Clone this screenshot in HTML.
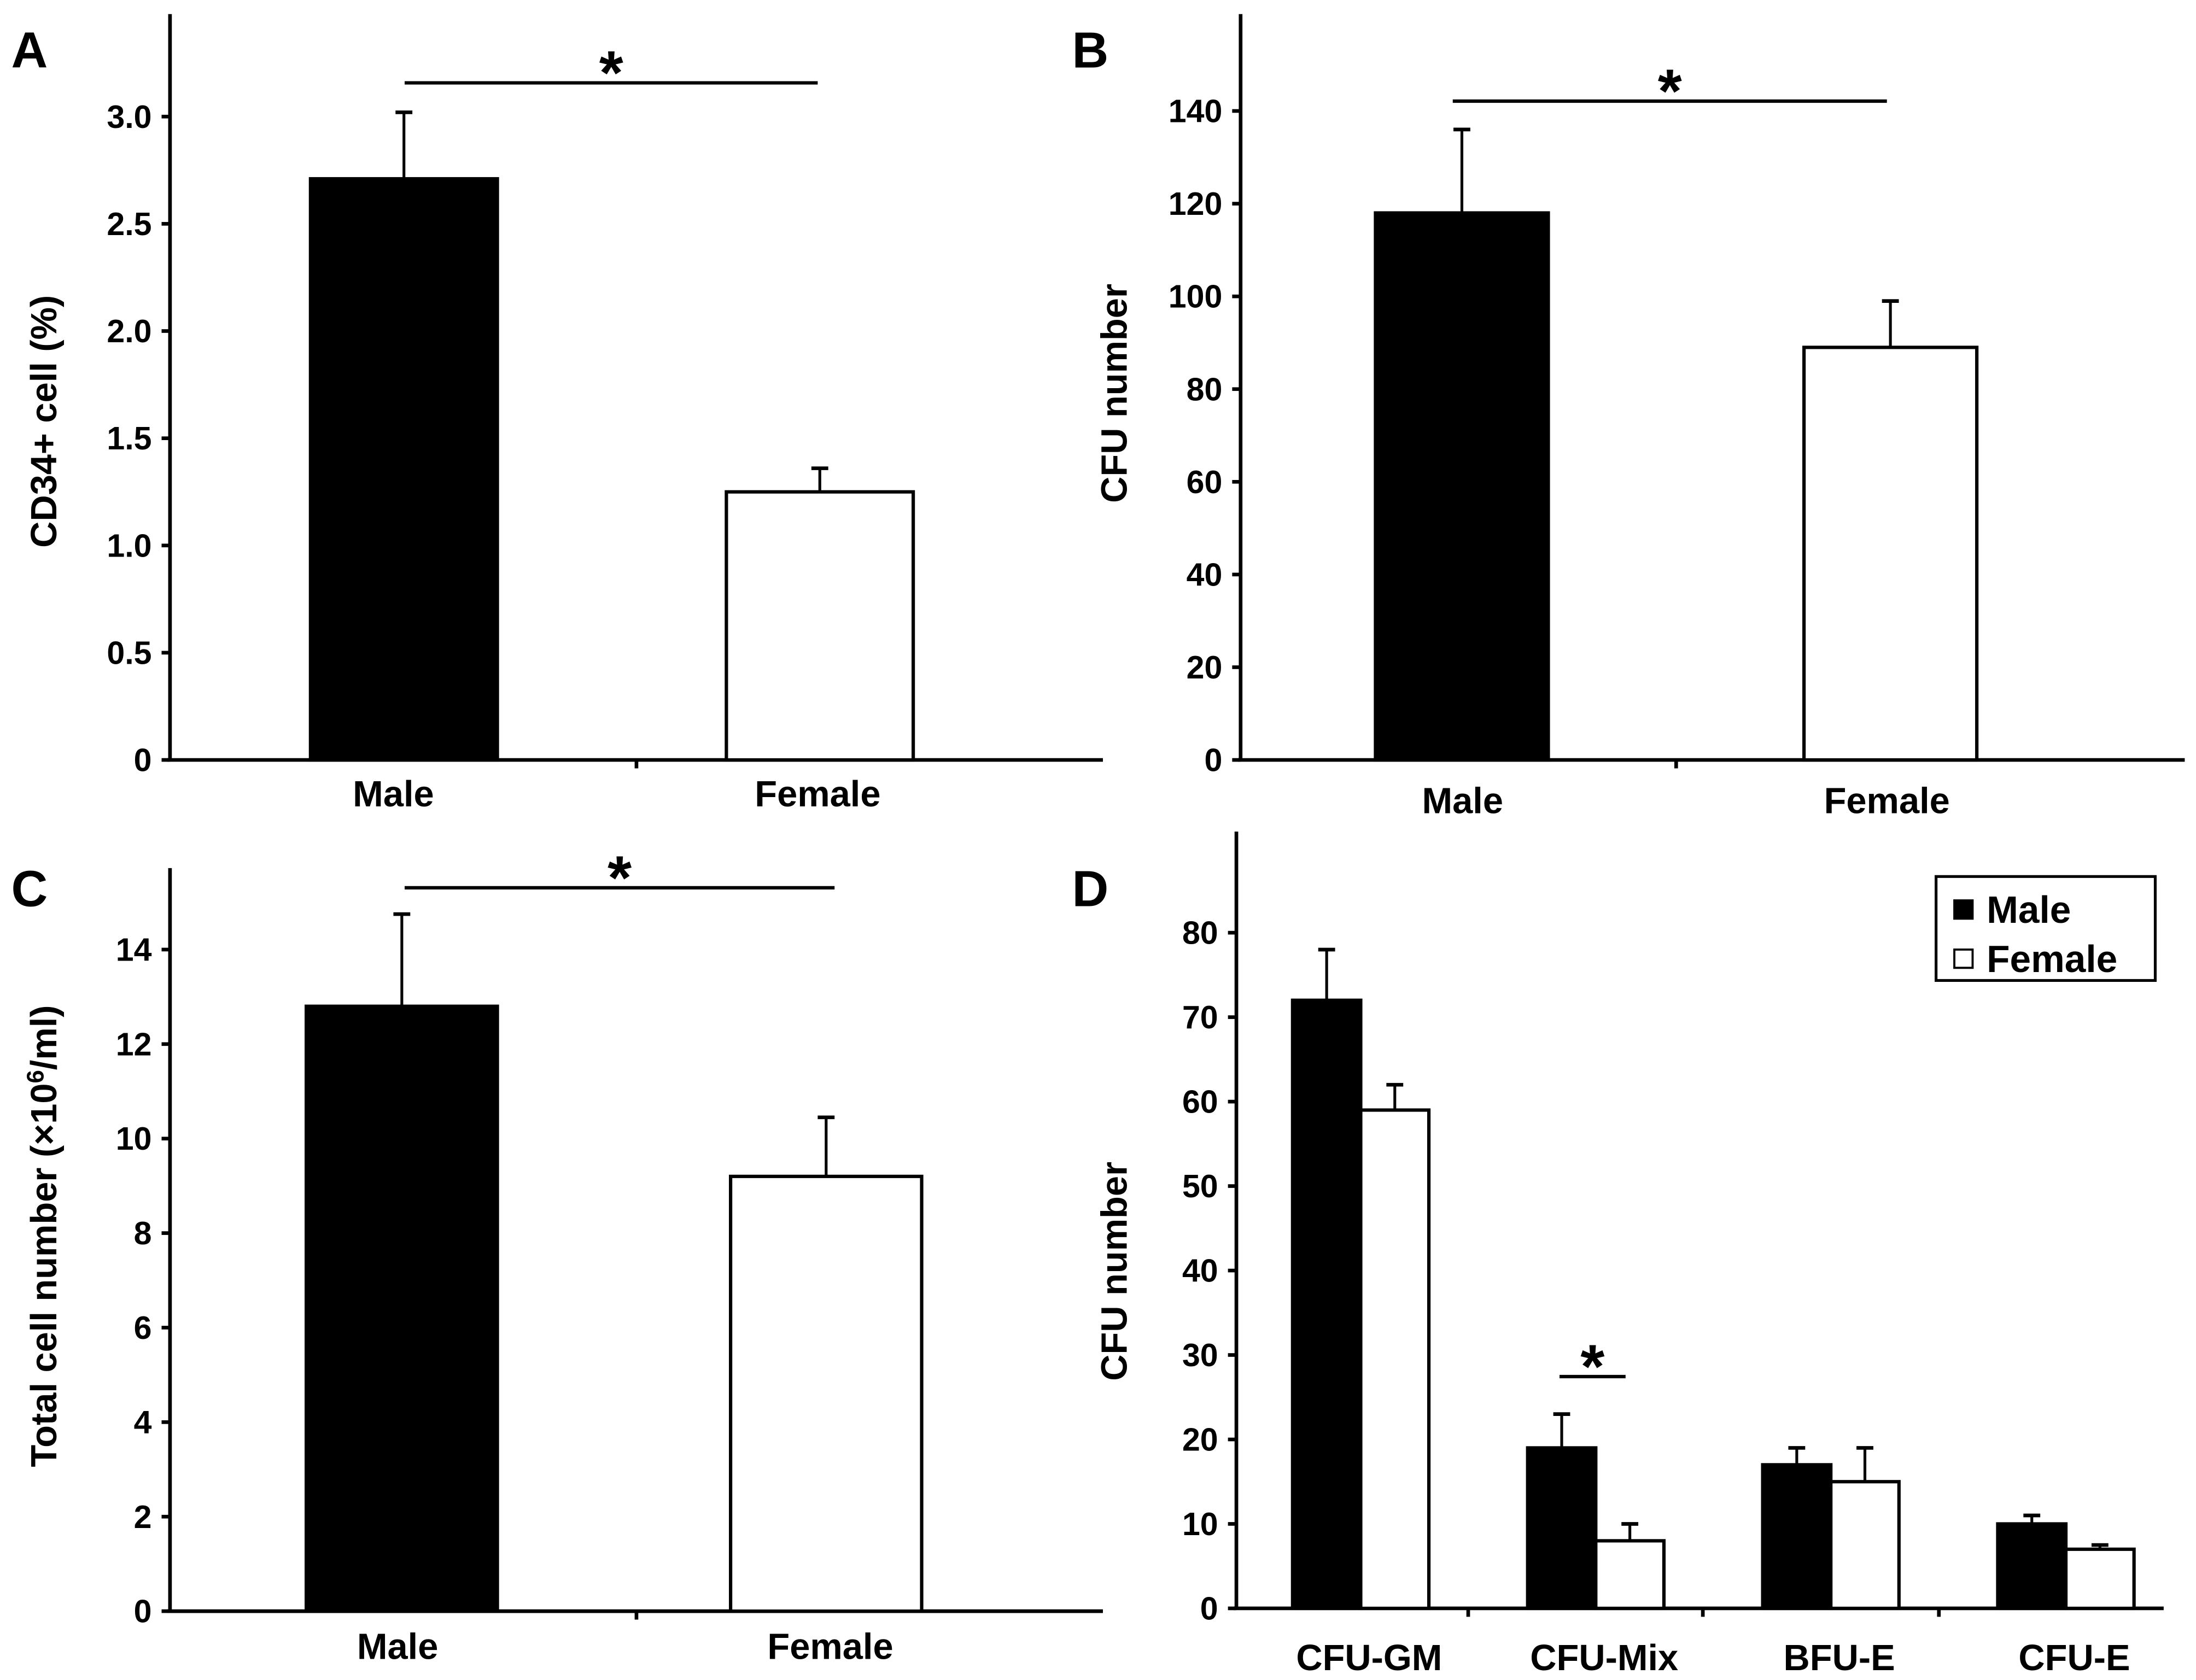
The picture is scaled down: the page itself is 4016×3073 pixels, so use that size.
<!DOCTYPE html>
<html><head><meta charset="utf-8"><style>
html,body{margin:0;padding:0;background:#fff}
svg{display:block}
text{font-family:"Liberation Sans",Arial,sans-serif;font-weight:bold;fill:#000}
</style></head><body>
<svg id="fig" width="4016" height="3073" viewBox="0 0 1563 1196" xmlns="http://www.w3.org/2000/svg"></svg>
<script>
// Panel A data
const aCats = ["Male","Female"];
const aVals = [2.71,1.25];
const aErr = [0.31,0.11];
const aTicks = [0,0.5,1.0,1.5,2.0,2.5,3.0];
const aTickLabels = ["0","0.5","1.0","1.5","2.0","2.5","3.0"];
// Panel B data
const bCats = ["Male","Female"];
const bVals = [118,89];
const bErr = [18,10];
const bTicks = [0,20,40,60,80,100,120,140];
// Panel C data
const cCats = ["Male","Female"];
const cVals = [12.8,9.2];
const cErr = [1.95,1.25];
const cTicks = [0,2,4,6,8,10,12,14];
// Panel D data
const dCats = ["CFU-GM","CFU-Mix","BFU-E","CFU-E"];
const dMale = [72,19,17,10];
const dMaleErr = [6,4,2,1];
const dFemale = [59,8,15,7];
const dFemaleErr = [3,2,4,0.5];
const dTicks = [0,10,20,30,40,50,60,70,80];

const NS="http://www.w3.org/2000/svg";
const svg=document.getElementById('fig');
function mk(tag,attrs,parent,txt){const e=document.createElementNS(NS,tag);for(const k in attrs)e.setAttribute(k,attrs[k]);if(txt!==undefined)e.textContent=txt;(parent||svg).appendChild(e);return e;}

function axes(g,o){
  // y axis
  let l=mk('line',{x1:o.x0,y1:o.top,x2:o.x0,y2:o.y0,stroke:'#000','stroke-width':2.6},g);
  
  
  l=mk('line',{x1:o.x0-2,y1:o.y0,x2:o.x1,y2:o.y0,stroke:'#000','stroke-width':2.6},g);
  
  
  o.ticks.forEach((t,i)=>{
    const y=o.sy(t);
    mk('line',{x1:o.x0-6,y1:y,x2:o.x0,y2:y,stroke:'#000','stroke-width':2.6},g);
    const tx=mk('text',{x:o.x0-13,y:y+8,'text-anchor':'end','font-size':23},g,o.labels?o.labels[i]:String(t));
    
    
  });
  (o.xticks||[]).forEach(x=>{mk('line',{x1:x,y1:o.y0,x2:x,y2:o.y0+6,stroke:'#000','stroke-width':2.6},g);});
}
function bar(g,x,w,v,e,sy,y0,fill,name){
  const yt=sy(v), ye=sy(v+e), cx=x+w/2;
  const el=mk('line',{x1:cx,y1:yt,x2:cx,y2:ye,stroke:'#000','stroke-width':2},g);
  
  
  mk('line',{x1:cx-6,y1:ye,x2:cx+6,y2:ye,stroke:'#000','stroke-width':2.6},g);
  const r=mk('rect',{x:x,y:yt,width:w,height:y0-yt,fill:fill,stroke:'#000','stroke-width':2.4},g);
  
  
}
function letter(t,x,y){const e=mk('text',{x:x,y:y,'font-size':36},svg,t);}
function ytitle(g,t,x,y,html){const e=mk('text',{x:x,y:y,'font-size':26,'text-anchor':'middle',transform:`rotate(-90 ${x} ${y})`},g);if(html)e.innerHTML=html;else e.textContent=t;}
function sig(g,x1,x2,y){const l=mk('line',{x1:x1,y1:y,x2:x2,y2:y,stroke:'#000','stroke-width':2.4},g);const s=mk('text',{x:(x1+x2)/2,y:y+8,'font-size':44,'text-anchor':'middle'},g,'*');}
function xlab(g,t,x,y){const e=mk('text',{x:x,y:y,'font-size':26,'text-anchor':'middle'},g,t);}

function twoBar(name,o,cats,vals,err,ticks,labels,title,titleHtml){
  const g=mk('g',{});
  const sy=v=>o.y0-(v-ticks[0])*(o.y0-o.yTop)/(ticks[ticks.length-1]-ticks[0]);
  axes(g,{x0:o.x0,x1:o.x1,y0:o.y0,top:o.top,ticks:ticks,labels:labels,sy:sy,xticks:[o.mid]});
  cats.forEach((c,i)=>{bar(g,o.bx[i],o.bw,vals[i],err[i],sy,o.y0,i==0?'#000':'#fff','bar-'+c.toLowerCase());xlab(g,c,o.lx[i],o.ly);});
  sig(g,o.s1,o.s2,o.sy);
  ytitle(g,title,o.tx,o.ty,titleHtml);
}
twoBar('panel-a',{x0:121,x1:785,y0:541,yTop:83,top:10,mid:453,bx:[221,517],bw:133,lx:[280,582],ly:574,s1:288,s2:582,sy:59,tx:40,ty:300},aCats,aVals,aErr,aTicks,aTickLabels,'CD34+ cell (%)');
twoBar('panel-b',{x0:883,x1:1555,y0:541,yTop:79,top:10,mid:1193,bx:[979,1284],bw:123,lx:[1041,1343],ly:579,s1:1034,s2:1343,sy:72,tx:802,ty:280},bCats,bVals,bErr,bTicks,null,'CFU number');
twoBar('panel-c',{x0:121,x1:785,y0:1147,yTop:676,top:618,mid:453,bx:[218,520],bw:136,lx:[283,591],ly:1181,s1:288,s2:594,sy:632,tx:40,ty:880},cCats,cVals,cErr,cTicks,null,'Total cell number (×10⁶/ml)','Total cell number (×10<tspan dy="-9" font-size="17">6</tspan><tspan dy="9">/ml)</tspan>');
letter('A',8,48);letter('B',763,48);letter('C',8,645);letter('D',763,645);

// Panel D
(function(){
  const g=mk('g',{});
  const y0=1145,yTop=664;
  const sy=v=>y0-v*(y0-yTop)/80;
  const gx0=920,gstep=167.3,bw=48.5;
  axes(g,{x0:880,x1:1540,y0:y0,top:592,ticks:dTicks,sy:sy,xticks:[1045,1212,1380]});
  dCats.forEach((c,i)=>{
    const x=gx0+i*gstep;
    bar(g,x,bw,dMale[i],dMaleErr[i],sy,y0,'#000','bar-male-'+c.toLowerCase());
    bar(g,x+bw,bw,dFemale[i],dFemaleErr[i],sy,y0,'#fff','bar-female-'+c.toLowerCase());
    xlab(g,c,x+bw+6,1189);
  });
  sig(g,1110,1157,980);
  ytitle(g,'CFU number',802,905);
  const lg=mk('g',{},g);
  mk('rect',{x:1378,y:624,width:156,height:74,fill:'#fff',stroke:'#000','stroke-width':2},lg);
  mk('rect',{x:1391,y:641,width:13,height:13,fill:'#000',stroke:'#000','stroke-width':1.5},lg);
  mk('rect',{x:1391,y:676,width:13,height:13,fill:'#fff',stroke:'#000','stroke-width':1.5},lg);
  let t=mk('text',{x:1414,y:657,'font-size':27},lg,'Male');
  t=mk('text',{x:1414,y:692,'font-size':27},lg,'Female');
})();
</script>
</body></html>
